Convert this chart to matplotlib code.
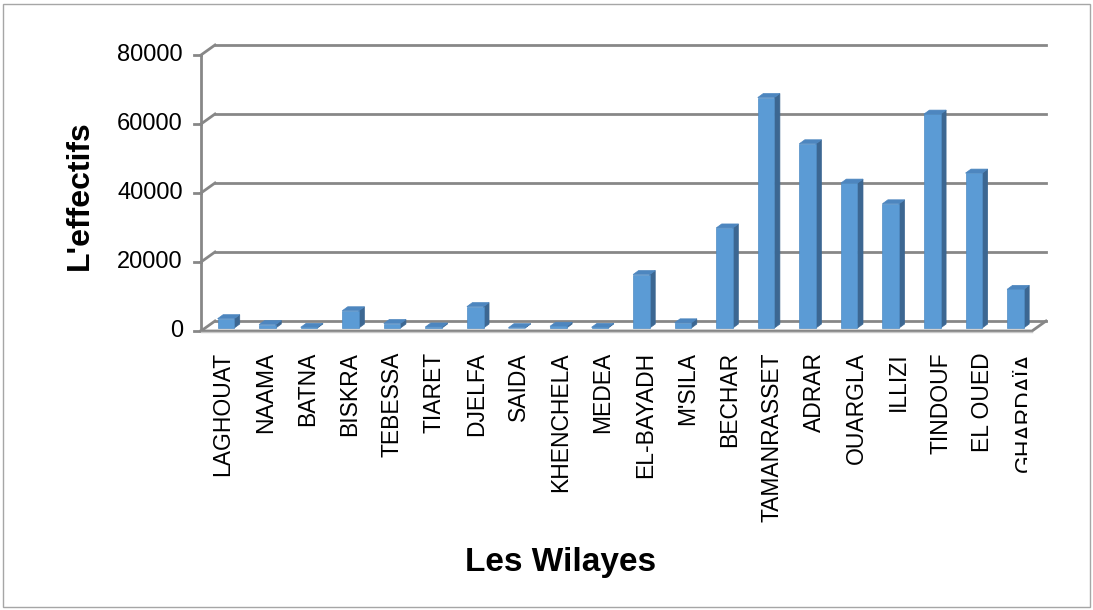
import matplotlib.pyplot as plt
from matplotlib.patches import Polygon, Rectangle
from matplotlib.transforms import Bbox, TransformedBbox, blended_transform_factory

plt.rcParams['font.family'] = ['Liberation Sans', 'DejaVu Sans']

wilayes = ['LAGHOUAT', 'NAAMA', 'BATNA', 'BISKRA', 'TEBESSA', 'TIARET', 'DJELFA',
           'SAIDA', 'KHENCHELA', 'MEDEA', 'EL-BAYADH', "M'SILA", 'BECHAR',
           'TAMANRASSET', 'ADRAR', 'OUARGLA', 'ILLIZI', 'TINDOUF', 'EL OUED',
           'GHARDAÏA']
effectifs = [2700, 1000, 200, 5000, 1300, 300, 6200, 100, 500, 200, 15500, 1500,
             29000, 66800, 53400, 42000, 36000, 62000, 44900, 11200]
yticks = [0, 20000, 40000, 60000, 80000]

W, H = 1093, 610
fig = plt.figure(figsize=(W / 100, H / 100), dpi=100)
# chart border
fig.patches.append(Rectangle((3 / W, 3 / H), 1 - 6 / W, 1 - 7 / H, transform=fig.transFigure,
                             fill=False, edgecolor='#a6a6a6', lw=1))

left, right, top, bottom = 201, 1032, 55, 331
ax = fig.add_axes([left / W, (H - bottom) / H, (right - left) / W, (bottom - top) / H])
xmin, xmax = -0.6, 19.4
ymax = 80000
ax.set_xlim(xmin, xmax)
ax.set_ylim(0, ymax)
ax.axis('off')

# pixel -> data conversions
px_x = (xmax - xmin) / (right - left)
px_y = ymax / (bottom - top)

grid = '#878787'
# back wall offset
bdx, bdy = 14 * px_x, 10 * px_y
for t in yticks:
    ax.plot([xmin + bdx, xmax + bdx], [t + bdy, t + bdy], color=grid, lw=2, clip_on=False, zorder=1)
    ax.plot([xmin, xmin + bdx], [t, t + bdy], color=grid, lw=2, clip_on=False, zorder=1)
    ax.plot([xmin - 7 * px_x, xmin], [t, t], color=grid, lw=2, clip_on=False, zorder=1)
    ax.text(xmin - 18 * px_x, t, str(t), ha='right', va='center', fontsize=17, color='black')
ax.plot([xmin, xmin], [0, ymax], color=grid, lw=2, clip_on=False, zorder=1)
# floor
ax.plot([xmin, xmax, xmax + bdx], [0, 0, bdy], color=grid, lw=2, clip_on=False, zorder=1)
ax.plot([xmin, xmax], [-1 * px_y, -1 * px_y], color='#c8c8c8', lw=1, clip_on=False, zorder=1)

# pseudo 3d bars
w = 0.4
ddx, ddy = 5.5 * px_x, 4 * px_y
base = 3 * px_y
front_c, side_c, top_c = '#5b9bd5', '#3c6792', '#4d86bf'
for i, v in enumerate(effectifs):
    x0, x1 = i - w / 2, i + w / 2
    y0, y1 = base, base + v
    ax.add_patch(Polygon([(x1, y0), (x1 + ddx, y0 + ddy), (x1 + ddx, y1 + ddy), (x1, y1)],
                         closed=True, facecolor=side_c, edgecolor=side_c, lw=0.5, zorder=3, clip_on=False))
    ax.add_patch(Polygon([(x0, y1), (x0 + ddx, y1 + ddy), (x1 + ddx, y1 + ddy), (x1, y1)],
                         closed=True, facecolor=top_c, edgecolor=top_c, lw=0.5, zorder=3, clip_on=False))
    ax.add_patch(Rectangle((x0, y0), w, v, facecolor=front_c, edgecolor='#4f8cc4', lw=0.5,
                           zorder=4, clip_on=False))

# category labels (last one is cut off on the right like in the reference)
trans = blended_transform_factory(ax.transData, fig.transFigure)
clip = TransformedBbox(Bbox([[0, 0], [1027 / W, 1]]), fig.transFigure)
for i, name in enumerate(wilayes):
    t = ax.text(i - 0.07 + i * 0.016, (H - 352) / H, name, transform=trans, rotation=90,
                ha='center', va='top', fontsize=16.5, color='black')
    t.set_clip_on(True)
    t.set_clip_box(clip)

fig.text(80 / W, (H - 195) / H, "L'effectifs", rotation=90, ha='center', va='center',
         fontsize=23, fontweight='bold')
fig.text(561 / W, (H - 563) / H, 'Les Wilayes', ha='center', va='center',
         fontsize=24, fontweight='bold')

fig.savefig('out.png', dpi=100)
